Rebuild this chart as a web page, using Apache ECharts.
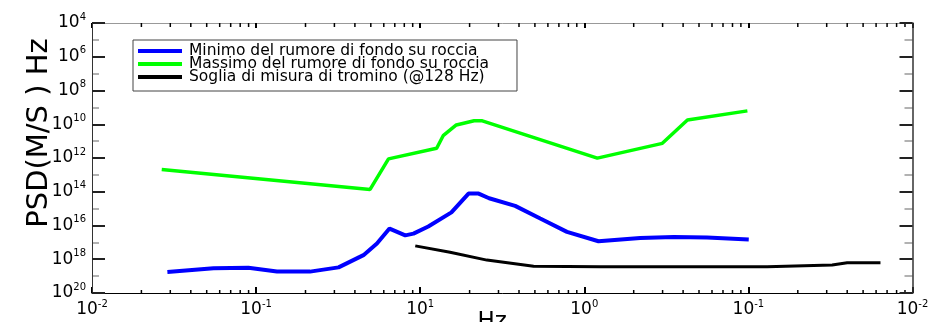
<!DOCTYPE html>
<html><head><meta charset="utf-8">
<script src="https://cdn.jsdelivr.net/npm/echarts@6/dist/echarts.min.js"></script>
<style>html,body{margin:0;padding:0;background:#fff}#c{width:928px;height:322px}</style>
</head><body><div id="c"></div>
<script>
// ---- data ----
const seriesNames = ['Minimo del rumore di fondo su roccia', 'Massimo del rumore di fondo su roccia', 'Soglia di misura di tromino (@128 Hz)'];
const minimoX = [0.0288, 0.055, 0.0897, 0.134, 0.213, 0.318, 0.451, 0.545, 0.65, 0.811, 0.91, 1.12, 1.55, 1.97, 2.27, 2.63, 3.79, 5.39, 7.84, 12.2, 21.9, 35.1, 56, 100.5];
const minimoY = [1.74e-19, 2.9e-19, 3.1e-19, 1.9e-19, 1.85e-19, 3.3e-19, 1.75e-18, 8.5e-18, 6.6e-17, 2.6e-17, 3.3e-17, 8.7e-17, 6.0e-16, 7.8e-15, 7.8e-15, 4.1e-15, 1.46e-15, 2.6e-16, 4.2e-17, 1.17e-17, 1.8e-17, 2.1e-17, 1.95e-17, 1.48e-17];
const massimoX = [0.0266, 0.495, 0.641, 1.26, 1.38, 1.66, 2.13, 2.39, 12.0, 29.9, 42.5, 98.6];
const massimoY = [2.1e-13, 1.38e-14, 8.9e-13, 3.8e-12, 2.1e-11, 9.1e-11, 1.6e-10, 1.6e-10, 9.8e-13, 7.4e-12, 1.8e-10, 6.2e-10];
const sogliaX = [0.933, 1.52, 2.55, 4.91, 12.5, 130, 324, 400, 638];
const sogliaY = [6.2e-18, 2.6e-18, 8.9e-19, 3.9e-19, 3.6e-19, 3.6e-19, 4.5e-19, 6.2e-19, 6.2e-19];
// tick labels as printed on the reference (one per decade)
const xTickExp = ['-2', '-1', '1', '0', '-1', '-2'];   // decades 1e-2 ... 1e3
const yTickExp = {'-20':'20','-18':'18','-16':'16','-14':'14','-12':'12','-10':'10','-8':'8','-6':'6','-4':'4'};
const xMin = 0.01, xMax = 1000, yMin = 1e-20, yMax = 1e-4;
const yName = 'PSD(M/S ) Hz';
const xName = 'Hz';

const pairs = (xs, ys) => xs.map((x, i) => [x, ys[i]]);
const minorX = [];
for (let d = -2; d <= 2; d++) for (let m = 2; m <= 9; m++) minorX.push([m * Math.pow(10, d), yMin]);

const FONT = 'DejaVu Sans';
const rich = {
  b: {fontFamily: FONT, fontSize: 17, color: '#000', lineHeight: 22},
  s: {fontFamily: FONT, fontSize: 10, color: '#000', lineHeight: 14, verticalAlign: 'top'}
};
const gridRect = {left: 92, right: 15.5, top: 23, bottom: 29, containLabel: false, outerBoundsMode: 'none'};

const chart = echarts.init(document.getElementById('c'), null, {renderer: 'canvas'});
chart.setOption({
  animation: false,
  backgroundColor: '#fff',
  grid: [Object.assign({}, gridRect), Object.assign({}, gridRect)],
  legend: {
    left: 133, top: 40, orient: 'vertical',
    data: seriesNames,
    icon: 'rect', itemWidth: 44, itemHeight: 4, itemGap: -3,
    padding: [3, 28, 6, 5],
    borderColor: '#444', borderWidth: 1, backgroundColor: '#fff',
    textStyle: {fontFamily: FONT, fontSize: 15.5, color: '#000', padding: [0, 0, 0, 2]}
  },
  xAxis: [
    {type: 'log', gridIndex: 0, position: 'bottom', min: xMin, max: xMax, logBase: 10, interval: 1,
     name: xName, nameLocation: 'middle', nameGap: 18, nameMoveOverlap: false,
     nameTextStyle: {fontFamily: FONT, fontSize: 23, color: '#000', verticalAlign: 'top', padding: [0, 20, 0, 0]},
     axisLine: {lineStyle: {color: '#000', width: 1}},
     axisTick: {inside: true, length: 6, lineStyle: {color: '#000', width: 2}},
     splitLine: {show: false}, minorTick: {show: false},
     axisLabel: {margin: 6, showMinLabel: true, showMaxLabel: true, hideOverlap: false,
       formatter: v => '{b|10}{s|' + xTickExp[Math.round(Math.log10(v)) + 2] + '}', rich: rich}},
    {type: 'log', gridIndex: 0, position: 'top', min: xMin, max: xMax, logBase: 10, interval: 1,
     axisLine: {lineStyle: {color: '#999', width: 1}},
     axisTick: {inside: true, length: 5, lineStyle: {color: '#000', width: 2}},
     splitLine: {show: false}, axisLabel: {show: false}},
    {type: 'log', gridIndex: 1, min: xMin, max: xMax, show: false},
    {type: 'log', gridIndex: 1, min: xMin, max: xMax, show: false, position: 'top'}
  ],
  yAxis: [
    {type: 'log', gridIndex: 0, position: 'left', min: yMin, max: yMax, logBase: 10, interval: 2,
     name: yName, nameLocation: 'middle', nameGap: 38, nameMoveOverlap: false,
     nameTextStyle: {fontFamily: FONT, fontSize: 29, color: '#000', padding: [0, 0, 0, 50]},
     axisLine: {show: true, lineStyle: {color: '#333', width: 1}},
     axisTick: {show: true, inside: true, length: 13, lineStyle: {color: '#222', width: 2}},
     splitLine: {show: false},
     axisLabel: {margin: 6, showMinLabel: true, showMaxLabel: true, hideOverlap: false,
       formatter: v => '{b|10}{s|' + yTickExp[String(Math.round(Math.log10(v)))] + '}', rich: rich}, z: 3},
    {type: 'log', gridIndex: 0, position: 'right', min: yMin, max: yMax, logBase: 10, interval: 2,
     axisLine: {show: true, lineStyle: {color: '#333', width: 1.5}},
     axisTick: {show: true, inside: true, length: 13, lineStyle: {color: '#222', width: 2}},
     splitLine: {show: false}, axisLabel: {show: false}, z: 3},
    {type: 'log', gridIndex: 1, position: 'left', min: yMin, max: yMax, logBase: 10, interval: 1,
     axisLine: {show: false}, axisTick: {show: true, inside: true, length: 7, lineStyle: {color: '#999', width: 1.5}},
     splitLine: {show: false}, axisLabel: {show: false}, z: 1},
    {type: 'log', gridIndex: 1, position: 'right', min: yMin, max: yMax, logBase: 10, interval: 1,
     axisLine: {show: false}, axisTick: {show: true, inside: true, length: 8, lineStyle: {color: '#999', width: 1.5}},
     splitLine: {show: false}, axisLabel: {show: false}, z: 1}
  ],
  series: [
    {name: seriesNames[0], type: 'line', xAxisIndex: 0, yAxisIndex: 0, data: pairs(minimoX, minimoY),
     showSymbol: false, symbol: 'none', color: '#0000ff', lineStyle: {color: '#0000ff', width: 4}, z: 4},
    {name: seriesNames[1], type: 'line', xAxisIndex: 0, yAxisIndex: 0, data: pairs(massimoX, massimoY),
     showSymbol: false, symbol: 'none', color: '#00ff00', lineStyle: {color: '#00ff00', width: 3.5}, z: 4},
    {name: seriesNames[2], type: 'line', xAxisIndex: 0, yAxisIndex: 0, data: pairs(sogliaX, sogliaY),
     showSymbol: false, symbol: 'none', color: '#000000', lineStyle: {color: '#000000', width: 3}, z: 4},
    {type: 'custom', name: 'minorTicks', xAxisIndex: 0, yAxisIndex: 0, data: minorX, silent: true, clip: false,
     encode: {x: 0, y: 1},
     renderItem: (params, api) => {
       const b = api.coord([api.value(0), yMin]);
       const t = api.coord([api.value(0), yMax]);
       return {type: 'group', children: [
         {type: 'line', shape: {x1: b[0], y1: b[1], x2: b[0], y2: b[1] - 3}, style: {stroke: '#000', lineWidth: 1.5}},
         {type: 'line', shape: {x1: t[0], y1: t[1], x2: t[0], y2: t[1] + 4}, style: {stroke: '#000', lineWidth: 1.5}}
       ]};
     }}
  ]
});
</script></body></html>
